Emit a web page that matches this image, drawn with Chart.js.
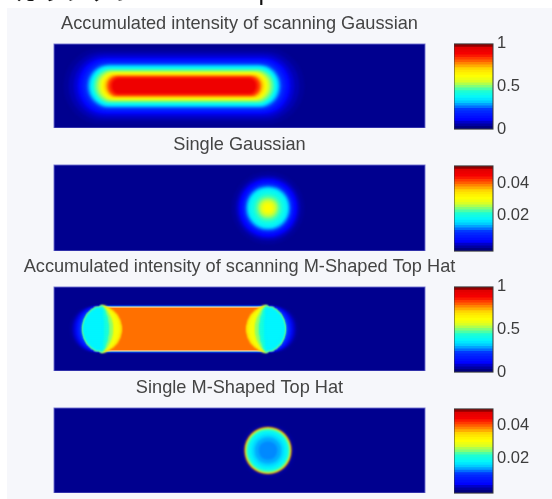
<!DOCTYPE html>
<html><head><meta charset="utf-8">
<style>
html,body{margin:0;padding:0;background:#fff;width:552px;height:499px;overflow:hidden}
#paper{position:absolute;left:7px;top:8px;width:545px;height:491px;background:#f6f7fb}
#stage{position:absolute;left:0;top:0;width:552px;height:499px;filter:blur(0.55px)}
#stage canvas{position:absolute}
#head{position:absolute;left:15px;top:-24px;font:25px/30px "Liberation Sans","Noto Sans CJK JP",sans-serif;color:#111;white-space:nowrap}
</style></head><body>
<div id="paper"></div>
<div id="stage"><div id="head">ガウシアン vs M- Shape</div></div>
<script src="https://cdn.jsdelivr.net/npm/chart.js@4"></script>
<script>
// ---- titles and ticks
const titles=["Accumulated intensity of scanning Gaussian","Single Gaussian","Accumulated intensity of scanning M-Shaped Top Hat","Single M-Shaped Top Hat"];
const ticksUnit=[0,0.5,1];
const ticksSpot=[0.02,0.04];
// ---- panel 1: iso-level extents of the scanned Gaussian (level, left, right, half height)
const accLevel=[0.04,0.06,0.08,0.11,0.15,0.2,0.25,0.3,0.36,0.42,0.48,0.54,0.6,0.66,0.72,0.78,0.84,0.9];
const accLeft =[64,69,74,78,81,84,87,89,91,93,95,98,101,103,105,107,109,112];
const accRight=[304,299,294,290,287,284,281,279,277,275,273,270,267,265,263,261,259,256];
const accHalf =[38,34,31,28,26,24,22,20.5,19,17.5,16,14.5,13,12,11,10,9,7.5];
// ---- panel 2: iso-level radii of the single Gaussian
const spotCentre=268;
const gaussLevel =[0.002,0.0035,0.005,0.0075,0.0105,0.0135,0.017,0.019,0.021,0.023,0.025,0.027,0.029,0.031];
const gaussRadius=[36,32,29,26,24,22,20,18,15,12.5,10,8,6,3.5];
// ---- panel 3: M-shaped scan, stadium levels then plateau
const mLevel=[0.04,0.08,0.14,0.22,0.3,0.37];
const mLeft =[70,73,76,79,82,84];
const mRight=[298,295,292,289,286,284];
const mHalf =[23,22.5,22.5,22,22,21.5];
const plateauLevel=0.78, plateauLeft=100, plateauRight=268, plateauHalf=20.8, rimHalf=22.2;
// end caps, per 2-unit row from the centre line outwards; right cap mirrors about 184
const capEdge=[84,84,85,85,86,87,88,90,92,95,101];
const capBands=[
 [0.66,[121,121,120,120,119,118,117,115,113,110,106]],
 [0.60,[118,118,117,117,116,115,114,112,110,108,104]],
 [0.50,[112,112,112,111,111,110,109,108,107,105,103]],
 [0.42,[108,108,108,107,107,107,106,105,105,104,102]],
 [0.36,[103,103,103,103,103,102,102,102,102,102,101]]
];
// ---- panel 4: single M-shaped top hat
const hatLevel =[0.002,0.037,0.026,0.0225,0.0185,0.0165,0.0145,0.0135];
const hatRadius=[27,23.2,21.8,21,19.5,16,13,9];
// ---- colour bar cell edges (fraction of range)
const cbEdges=[0,0.03,0.06,0.09,0.12,0.15,0.18,0.21,0.24,0.27,0.3,0.33,0.36,0.39,0.42,0.45,0.48,0.51,0.54,0.57,0.6,0.63,0.66,0.69,0.72,0.75,0.78,0.81,0.84,0.87,0.9,0.93,0.96,1];

const STOPS=[[0,[0,0,112]],[0.03,[0,0,143]],[0.07,[0,0,192]],[0.1,[0,0,255]],[0.22,[0,48,255]],[0.3,[0,190,255]],[0.36,[0,245,255]],[0.44,[30,255,210]],[0.5,[140,255,110]],[0.56,[225,255,30]],[0.62,[255,255,0]],[0.7,[255,220,0]],[0.78,[255,112,0]],[0.84,[255,40,0]],[0.88,[245,0,0]],[0.95,[225,0,0]],[1,[90,0,0]]];
function heat(f){f=Math.max(0,Math.min(1,f));
 for(let i=1;i<STOPS.length;i++){if(f<=STOPS[i][0]){const a=STOPS[i-1],b=STOPS[i],t=(f-a[0])/(b[0]-a[0]);
  return 'rgb('+a[1].map((c,k)=>Math.round(c+(b[1][k]-c)*t)).join(',')+')';}}
 return 'rgb(90,0,0)';}

const PW=552, TITLE_H=32;
const soften={id:'soften',
 beforeDatasetDraw(c,args){c.ctx.filter=c.data.datasets[args.index].crisp?'none':'blur('+(c.options.plugins.soften.px)+'px)';},
 afterDatasetDraw(c){c.ctx.filter='none';}};
const frame={id:'frame',
 beforeDraw(c){const o=c.options.plugins.frame,a=c.chartArea;if(o.fill){c.ctx.fillStyle=o.fill;c.ctx.fillRect(a.left,a.top,a.width,a.height);}},
 afterDraw(c){const o=c.options.plugins.frame,a=c.chartArea;c.ctx.strokeStyle=o.line;c.ctx.lineWidth=1;c.ctx.strokeRect(a.left,a.top,a.width,a.height);}};
const panelTitle={id:'panelTitle',afterDraw(c){const o=c.options.plugins.panelTitle,a=c.chartArea,g=c.ctx;
 g.save();g.font='18.2px "Liberation Sans"';g.fillStyle='#444';g.textAlign='center';g.textBaseline='middle';
 g.fillText(o.text,(a.left+a.right)/2,a.top-20);g.restore();}};

function addCanvas(x,y,w,h){const el=document.createElement('canvas');el.width=w;el.height=h;el.style.left=x+'px';el.style.top=y+'px';el.style.width=w+'px';el.style.height=h+'px';document.getElementById('stage').appendChild(el);return el;}

function level(l,r,half,color,radius){return {data:[[l,r]],yAxisID:'y',barThickness:half*2,backgroundColor:color,borderRadius:radius===undefined?999:radius,borderSkipped:false};}

function panel(idx,top,bottom,sets){
 const el=addCanvas(0,top-TITLE_H,PW,bottom-top+TITLE_H);
 sets.forEach((s,i)=>{s.order=-i;s.grouped=false;s.xAxisID='x';});
 new Chart(el,{type:'bar',plugins:[frame,soften,panelTitle],
  data:{labels:['scan'],datasets:sets},
  options:{indexAxis:'y',responsive:false,animation:false,devicePixelRatio:1,
   layout:{autoPadding:false,padding:{left:54,right:127,top:TITLE_H,bottom:0}},
   scales:{
    x:{type:'linear',min:54,max:425,display:false},
    y:{type:'category',labels:['scan'],offset:true,display:false},
    rows:{type:'category',axis:'y',labels:Array.from({length:Math.round((bottom-top)/2)},(_,i)=>String(i)),offset:true,display:false}
   },
   plugins:{legend:{display:false},tooltip:{enabled:false},title:{display:false},
    panelTitle:{text:titles[idx]},
    soften:{px:1.3},frame:{fill:'#00008f',line:'rgba(110,110,205,0.9)'}}
  }});
}

function colourbar(top,bottom,min,max,ticks,fmt){
 const pad=12, barL=454, barR=493;
 const el=addCanvas(barL,top-pad,PW-barL,bottom-top+pad*2);
 const span=max-min, sets=[];
 for(let i=0;i<cbEdges.length-1;i++){
  const a=min+cbEdges[i]*span,b=min+cbEdges[i+1]*span;
  sets.push({data:[[a,b]],backgroundColor:heat((cbEdges[i]+cbEdges[i+1])/2),borderWidth:0,barPercentage:1,categoryPercentage:1,grouped:false,inflateAmount:0.6});
 }
 new Chart(el,{type:'bar',plugins:[frame],
  data:{labels:['c'],datasets:sets},
  options:{responsive:false,animation:false,devicePixelRatio:1,
   layout:{autoPadding:false,padding:{left:0,right:0,top:pad,bottom:pad}},
   scales:{
    x:{type:'category',display:false,offset:true},
    y:{type:'linear',position:'right',min:min,max:max,
       afterBuildTicks(s){s.ticks=ticks.map(v=>({value:v}));},
       afterFit(s){s.width=PW-barR;},
       border:{display:false},grid:{display:false,drawTicks:false},
       ticks:{padding:4,color:'#3c3c3c',font:{family:'"Liberation Sans"',size:16.5},autoSkip:false,maxRotation:0,callback:fmt}}
   },
   plugins:{legend:{display:false},tooltip:{enabled:false},frame:{line:'#3a3a3a'}}
  }});
}

// panel 1
panel(0,44,128,accLevel.map((v,i)=>level(accLeft[i],accRight[i],accHalf[i],heat(v))));
// panel 2
panel(1,165,251,gaussLevel.map((v,i)=>level(spotCentre-gaussRadius[i],spotCentre+gaussRadius[i],gaussRadius[i],heat(v/0.05))));
// panel 3
(function(){
 const sets=mLevel.map((v,i)=>level(mLeft[i],mRight[i],mHalf[i],heat(v)));
 const rim=level(plateauLeft,plateauRight,rimHalf,'#ffc890',0);rim.crisp=true;sets.push(rim);
 const flat=level(plateauLeft,plateauRight,plateauHalf,heat(plateauLevel),0);flat.crisp=true;sets.push(flat);
 const nRows=42, mid=nRows/2;
 function rowData(edge,band,mirror){const d=new Array(nRows).fill(null);
  band.forEach((b,k)=>{const e=edge[k];const seg=mirror?[368-b,368-e]:[e,b];d[mid+k]=seg;d[mid-1-k]=seg;});return d;}
 capBands.forEach(b=>{[false,true].forEach(m=>{
  sets.push({data:rowData(capEdge,b[1],m),yAxisID:'rows',barThickness:4,backgroundColor:heat(b[0]),borderSkipped:false});
 });});
 panel(2,287,371,sets);
})();
// panel 4
panel(3,408,493,hatLevel.map((v,i)=>level(spotCentre-hatRadius[i],spotCentre+hatRadius[i],hatRadius[i],heat(v/0.05))));

const fmtUnit=v=>String(v), fmtSpot=v=>v.toFixed(2);
colourbar(42,131,0,1,ticksUnit,fmtUnit);
colourbar(164,253,-0.0018,0.0506,ticksSpot,fmtSpot);
colourbar(285,374,0,1,ticksUnit,fmtUnit);
colourbar(407,495,-0.0018,0.0506,ticksSpot,fmtSpot);
</script></body></html>
